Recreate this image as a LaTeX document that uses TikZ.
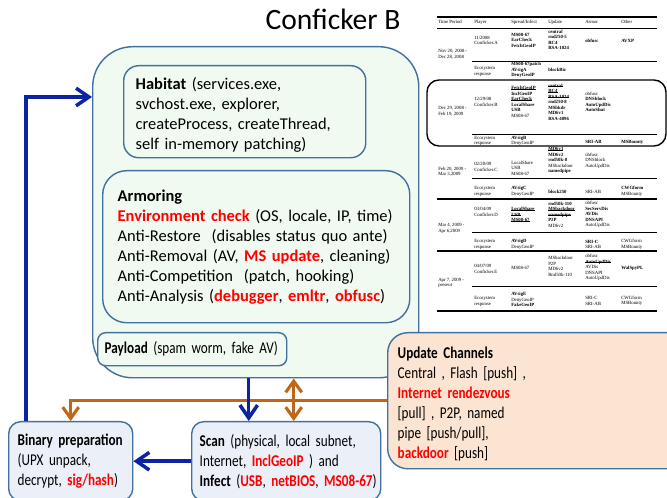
\documentclass[tikz,border=0pt]{standalone}
\usepackage{fontspec}
\setmainfont{Carlito}
\newfontfamily\narrowfont{Carlito}[FakeStretch=0.8]
\newfontfamily\tabfont{Liberation Serif}
\usetikzlibrary{arrows.meta,calc}

\definecolor{boxline}{RGB}{65,113,156}
\definecolor{greenfill}{RGB}{240,250,240}
\definecolor{bluefill}{RGB}{234,239,248}
\definecolor{peachfill}{RGB}{251,229,210}
\definecolor{arrblue}{RGB}{12,36,164}
\definecolor{arrbrown}{RGB}{191,102,24}
\definecolor{hotred}{RGB}{255,0,0}

\newcommand{\hot}[1]{\textcolor{hotred}{\textbf{#1}}}
\newcommand{\tabsize}{\fontsize{3.4}{3.9}\selectfont}
\newcommand{\topgap}{\rule{0pt}{0.46cm}}
\newsavebox{\strkbox}
\newcommand{\strk}[1]{\sbox{\strkbox}{#1}\rlap{\usebox{\strkbox}}\rule[0.3ex]{\wd\strkbox}{0.25pt}}

\tikzset{
  box/.style={draw=boxline, line width=1pt, align=left, anchor=north west,
    font=\fontsize{11.7}{14.2}\selectfont},
  nbox/.style={box, font=\narrowfont\fontsize{11.7}{14.2}\selectfont},
  cell/.style={anchor=west, inner sep=0pt, align=left, font=\tabfont\tabsize},
  bcell/.style={cell, font=\tabfont\tabsize\bfseries},
  bluearr/.style={arrblue, line width=2.5pt, -{Straight Barb[length=3.2mm,width=4.4mm]}},
  brownarr/.style={arrbrown, line width=2.2pt, -{Straight Barb[length=2.8mm,width=4mm]}},
}

\begin{document}
\begin{tikzpicture}[x=0.025cm, y=-0.025cm]
    \useasboundingbox (0,0) rectangle (667,498);
    \fill[white] (0,0) rectangle (667,498);

    \node[font=\fontsize{21}{25}\selectfont] (title) at (333,19) {Conficker B};

    % worm body
    \node[box, fill=greenfill, rounded corners=1cm, minimum width=8.15cm, minimum height=8.275cm] (body) at (92,46) {};
    \node[box, fill=greenfill, rounded corners=0.375cm, text width=5.45cm, inner xsep=0.3cm, minimum height=2.3cm] (habitat) at (123,65)
        {\topgap\textbf{Habitat} (services.exe,\\ svchost.exe, explorer,\\ createProcess, createThread,\\ self in-memory patching)};
    \node[box, fill=greenfill, rounded corners=0.6cm, text width=6.925cm, inner xsep=0.375cm, minimum height=3.8cm] (armor) at (102,170)
        {\textbf{Armoring}\\ \hot{Environment check} (OS, locale, IP, time)\\ Anti-Restore~ (disables status quo ante)\\
         Anti-Removal (AV, \hot{MS update}, cleaning)\\ Anti-Competition~ (patch, hooking)\\
         Anti-Analysis (\hot{debugger}, \hot{emltr}, \hot{obfusc})};
    \node[nbox, fill=greenfill, rounded corners=0.2cm, text width=4.375cm, inner xsep=0.175cm, minimum height=0.825cm] (payload) at (97,332)
        {\textbf{Payload} (spam worm, fake AV)};

    \node[nbox, fill=peachfill, rounded corners=0.5cm, text width=7cm, inner xsep=0.25cm, minimum height=3.4cm] (update) at (387,332)
        {\topgap\textbf{Update Channels}\\ Central , Flash [push] ,\\ \hot{Internet rendezvous}\\{}[pull] , P2P, named\\ pipe [push/pull],\\ \hot{backdoor} [push]};
    \node[nbox, fill=bluefill, rounded corners=0.3cm, text width=2.65cm, inner xsep=0.225cm, minimum height=1.975cm] (binprep) at (8,421)
        {\textbf{Binary preparation}\\ (UPX unpack,\\ decrypt, \hot{sig/hash})};
    \node[nbox, fill=bluefill, rounded corners=0.3cm, text width=4.325cm, inner xsep=0.2cm, minimum height=1.975cm] (scan) at (191,421)
        {\mbox{\textbf{Scan} (physical, local subnet,}\\ Internet, \hot{InclGeoIP} ) and\\ \mbox{\textbf{Infect} (\hot{USB}, \hot{netBIOS}, \hot{MS08-67})}};

    % connectors
    \coordinate (downx) at ($(scan.north)+(-37.5,0)$);
    \coordinate (twox) at ($(scan.north)+(7.5,0)$);
    \coordinate (upx) at ($(binprep.north west)+(18,0)$);
    \coordinate (backy) at ($(body.north west)+(0,51)$);

    \draw[brownarr] (update.west) -| (binprep.north);
    \draw[brownarr, {Straight Barb[length=2.8mm,width=4mm]}-{Straight Barb[length=2.8mm,width=4mm]}] (twox |- body.south) -- (twox);
    \draw[bluearr] (downx |- body.south) -- (downx);
    \draw[bluearr] (scan.west) -- (scan.west -| binprep.east);
    \draw[bluearr] (upx) |- (backy);

    % version table
    \draw[line width=0.9pt] (437,17) -- (657,17);
    \draw[line width=0.6pt] (437,28) -- (657,28);
    \foreach \y in {61,134,178,232,286}
        \draw[line width=0.6pt] (472,\y) -- (657,\y);
    \foreach \y in {199,251,311}
        \draw[line width=0.8pt] (437,\y) -- (657,\y);
    \draw[line width=1pt, rounded corners=0.3cm] (427,80) rectangle (666,146);

    \foreach \x/\t in {438/Time Period, 474/Player, 511/{Spread/Infect}, 548/Update, 585/Armor, 621/Other}
        \node[cell] (h\x) at (\x,22) {\t};

    \node[cell] (aT) at (438,54.5) {Nov 20, 2008 -\\Dec 28, 2008};
    \node[cell] (aP) at (474,40.5) {11/2008\\Conficker.A};
    \node[bcell] (aS) at (511,40) {MS08-67\\EarCheck\\FetchGeoIP};
    \node[bcell] (aU) at (548,40) {central\\rnd250-5\\RC4\\RSA-1024};
    \node[bcell] (aA) at (585,41) {obfusc};
    \node[bcell] (aO) at (621,41) {AVXP};
    \node[cell] (aeP) at (474,71.5) {Ecosystem\\response};
    \node[bcell] (aeS) at (511,70) {MS08-67patch\\AVsigA\\DenyGeoIP};
    \node[bcell] (aeU) at (548,70) {blockBiz};

    \node[cell] (bT) at (438,111.5) {Dec 29, 2008 -\\Feb 19, 2009};
    \node[cell] (bP) at (474,102) {12/29/08\\Conficker.B};
    \node[cell] (bS) at (511,102) {\strk{\textbf{FetchGeoIP}}\\\textbf{InclGeoIP}\\\strk{\textbf{EarCheck}}\\\textbf{LocalShare}\\\textbf{USB}\\MS08-67};
    \node[bcell] (bU) at (548,102) {\strk{central}\\\strk{RC4}\\\strk{RSA-1024}\\rnd250-8\\MSbkdr\\MD6v1\\RSA-4096};
    \node[cell] (bA) at (585,102) {obfusc\\\textbf{DNSblock}\\\textbf{AutoUpdDis}\\\textbf{AutoShut}};
    \node[cell] (beP) at (474,141) {Ecosystem\\response};
    \node[cell] (beS) at (511,141) {\textbf{AVsigB}\\DenyGeoIP};
    \node[bcell] (beA) at (585,142) {SRI-AB};
    \node[bcell] (beO) at (621,142) {MSBounty};

    \node[cell] (cT) at (438,171.5) {Feb 20, 2009 -\\Mar 3,2009};
    \node[cell] (cP) at (474,167) {02/20/09\\Conficker.C};
    \node[cell] (cS) at (511,168) {LocalShare\\USB\\MS08-67};
    \node[cell] (cU) at (548,160.5) {\strk{\textbf{MD6v1}}\\\textbf{MD6v2}\\\textbf{rnd50k-8}\\MSbackdoor\\\textbf{namedpipe}};
    \node[cell] (cA) at (585,160.5) {obfusc\\DNSblock\\AutoUpdDis};
    \node[cell] (ceP) at (474,191.5) {Ecosystem\\response};
    \node[cell] (ceS) at (511,191.5) {\textbf{AVsigC}\\DenyGeoIP};
    \node[bcell] (ceU) at (548,192) {block250};
    \node[cell] (ceA) at (585,192) {SRI-AB};
    \node[cell] (ceO) at (621,191.5) {\textbf{CWGform}\\MSBounty};

    \node[cell] (dT) at (438,228.5) {Mar 4, 2009 -\\Apr 6,2009};
    \node[cell] (dP) at (474,212) {03/04/09\\Conficker.D};
    \node[bcell] (dS) at (511,214.5) {\strk{LocalShare}\\\strk{USB}\\\strk{MS08-67}};
    \node[cell] (dU) at (548,214.5) {\textbf{rnd50k-110}\\\strk{\textbf{MSbackdoor}}\\\strk{\textbf{namedpipe}}\\\textbf{P2P}\\MD6v2};
    \node[cell] (dA) at (585,214.5) {obfusc\\\textbf{SecServDis}\\\textbf{AVDis}\\\textbf{DNSAPI}\\AutoUpdDis};
    \node[cell] (deP) at (474,244.5) {Ecosystem\\response};
    \node[cell] (deS) at (511,244.5) {\textbf{AVsigD}\\DenyGeoIP};
    \node[cell] (deA) at (585,244.5) {\textbf{SRI-C}\\SRI-AB};
    \node[cell] (deO) at (621,244.5) {CWGform\\MSBounty};

    \node[cell] (eT) at (438,283) {Apr 7, 2009 -\\present};
    \node[cell] (eP) at (474,269) {04/07/09\\Conficker.E};
    \node[cell] (eS) at (511,268) {MS08-67};
    \node[cell] (eU) at (548,266.5) {MSbackdoor\\P2P\\MD6v2\\Rnd50k-110};
    \node[cell] (eA) at (585,267.5) {obfusc\\\strk{\textbf{AutoUpdDis}}\\AVDis\\DNSAPI\\AutoUpdDis};
    \node[bcell] (eO) at (621,268) {WalSpyPL};
    \node[cell] (eeP) at (474,301.5) {Ecosystem\\response};
    \node[cell] (eeS) at (511,299.5) {\textbf{AVsigE}\\DenyGeoIP\\\textbf{FakeGeoIP}};
    \node[cell] (eeA) at (585,301) {SRI-C\\SRI-AB};
    \node[cell] (eeO) at (621,301) {CWGform\\MSBounty};
\end{tikzpicture}
\end{document}
